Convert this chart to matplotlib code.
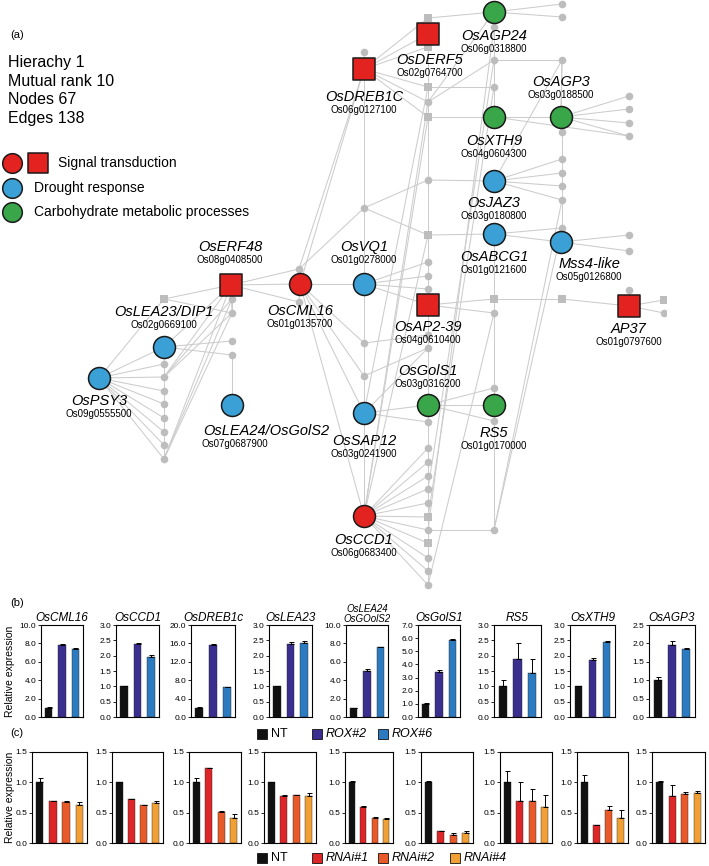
import matplotlib
matplotlib.use('Agg')
import matplotlib.pyplot as plt
from matplotlib.patches import Rectangle
import numpy as np

plt.rcParams['font.family'] = ['Liberation Sans', 'DejaVu Sans']

W, H = 709, 866

# ---- network (a) ----
red, blue, green = '#e3231f', '#3aa0d5', '#3aa64a'
gray_node, gray_edge = '#bdbdbd', '#cccccc'

# gene nodes: name, locus id, category, shape
genes = ['OsAGP24', 'OsDERF5', 'OsDREB1C', 'OsAGP3', 'OsXTH9', 'OsJAZ3', 'OsABCG1',
         'Mss4-like', 'OsVQ1', 'OsERF48', 'OsCML16', 'OsAP2-39', 'AP37', 'OsLEA23/DIP1',
         'OsPSY3', 'OsLEA24/OsGolS2', 'OsSAP12', 'OsGolS1', 'RS5', 'OsCCD1']
loci = ['Os06g0318800', 'Os02g0764700', 'Os06g0127100', 'Os03g0188500', 'Os04g0604300',
        'Os03g0180800', 'Os01g0121600', 'Os05g0126800', 'Os01g0278000', 'Os08g0408500',
        'Os01g0135700', 'Os04g0610400', 'Os01g0797600', 'Os02g0669100', 'Os09g0555500',
        'Os07g0687900', 'Os03g0241900', 'Os03g0316200', 'Os01g0170000', 'Os06g0683400']
cats = ['carb', 'signal', 'signal', 'carb', 'carb', 'drought', 'drought', 'drought', 'drought',
        'signal', 'signal', 'signal', 'signal', 'drought', 'drought', 'drought', 'drought',
        'carb', 'carb', 'signal']
shapes = ['o', 's', 's', 'o', 'o', 'o', 'o', 'o', 'o', 's', 'o', 's', 's', 'o', 'o', 'o',
          'o', 'o', 'o', 'o']

# layout (pixel coords) and label placement
pos = {
    'OsAGP24': (494, 12), 'OsDERF5': (428, 34), 'OsDREB1C': (364, 69), 'OsAGP3': (561, 117),
    'OsXTH9': (494, 117), 'OsJAZ3': (494, 181), 'OsABCG1': (494, 234), 'Mss4-like': (561, 242),
    'OsVQ1': (364, 284), 'OsERF48': (231, 285), 'OsCML16': (300, 284), 'OsAP2-39': (428, 305),
    'AP37': (629, 306), 'OsLEA23/DIP1': (164, 347), 'OsPSY3': (99, 378),
    'OsLEA24/OsGolS2': (232, 405), 'OsSAP12': (364, 413), 'OsGolS1': (428, 405),
    'RS5': (494, 405), 'OsCCD1': (364, 516),
}
label_pos = {
    'OsAGP24': (494, 36), 'OsDERF5': (430, 60), 'OsDREB1C': (364, 97), 'OsAGP3': (561, 82),
    'OsXTH9': (494, 141), 'OsJAZ3': (494, 203), 'OsABCG1': (494, 257), 'Mss4-like': (589, 264),
    'OsVQ1': (364, 247), 'OsERF48': (230, 247), 'OsCML16': (300, 311), 'OsAP2-39': (428, 327),
    'AP37': (629, 329), 'OsLEA23/DIP1': (164, 312), 'OsPSY3': (99, 401),
    'OsLEA24/OsGolS2': (203, 431), 'OsSAP12': (364, 441), 'OsGolS1': (428, 371),
    'RS5': (494, 433), 'OsCCD1': (364, 540),
}

gray_circles = {
    'A3': (428, 102), 'A5': (428, 180), 'A7': (428, 262), 'A8': (428, 276), 'A9': (428, 289),
    'A10': (428, 335), 'A11': (428, 348), 'A12': (428, 422), 'A13': (428, 448),
    'A14': (428, 462), 'A15': (428, 476), 'A16': (428, 489), 'A17': (428, 503),
    'A19': (428, 530), 'A21': (428, 558), 'A22': (428, 571), 'A23': (428, 585),
    'B0': (494, 27), 'B1': (494, 60), 'B2': (494, 87), 'B4': (494, 313), 'B5': (494, 388),
    'B6': (494, 421), 'B7': (494, 530),
    'C0': (562, 4), 'C1': (562, 17), 'C2': (562, 60), 'C3': (562, 132), 'C4': (562, 159),
    'C5': (562, 173), 'C6': (562, 186), 'C7': (562, 200), 'C8': (562, 228),
    'D0': (629, 96), 'D1': (629, 109), 'D2': (629, 123), 'D3': (629, 136), 'D4': (629, 235),
    'D5': (629, 251), 'D6': (629, 290), 'E1': (664, 313),
    'F0': (364, 52), 'F1': (364, 208), 'F2': (364, 343), 'F3': (364, 376),
    'G0': (299, 269), 'G1': (299, 302),
    'H0': (232, 299), 'H1': (232, 313), 'H2': (232, 341), 'H3': (232, 355),
    'K1': (164, 364), 'K2': (164, 377), 'K3': (164, 391), 'K4': (164, 404), 'K5': (164, 418),
    'K6': (164, 432), 'K7': (164, 445), 'K8': (164, 459),
}
gray_squares = {
    'A0': (428, 18), 'A1': (428, 47), 'A2': (428, 87), 'A4': (428, 117), 'A6': (428, 235),
    'A18': (428, 517), 'A20': (428, 543), 'B3': (494, 299), 'C9': (562, 299),
    'E0': (664, 300), 'K0': (164, 299),
}
allpos = dict(pos)
allpos.update(gray_circles)
allpos.update(gray_squares)

edges = [
    ('OsAGP24', 'C0'), ('OsAGP24', 'C1'), ('OsAGP24', 'A0'), ('OsAGP24', 'B0'), ('OsAGP24', 'A3'),
    ('B0', 'A19'), ('OsDERF5', 'A0'), ('OsDERF5', 'A1'),
    ('OsDREB1C', 'A0'), ('OsDREB1C', 'OsDERF5'), ('OsDREB1C', 'A1'), ('OsDREB1C', 'A2'),
    ('OsDREB1C', 'A3'), ('OsDREB1C', 'A4'), ('OsDREB1C', 'F0'), ('OsDREB1C', 'F1'),
    ('OsDREB1C', 'OsCML16'), ('OsDREB1C', 'G0'),
    ('B1', 'C2'), ('A3', 'B1'), ('A2', 'B2'), ('A4', 'OsXTH9'), ('OsXTH9', 'OsAGP3'),
    ('OsAGP3', 'D0'), ('OsAGP3', 'D1'), ('OsAGP3', 'D2'), ('OsAGP3', 'D3'), ('OsXTH9', 'D3'),
    ('OsAGP3', 'C3'), ('C2', 'OsAGP3'), ('C2', 'OsJAZ3'), ('B0', 'B1'), ('B1', 'B2'),
    ('B2', 'OsXTH9'), ('C3', 'C4'),
    ('OsJAZ3', 'A5'), ('OsJAZ3', 'C4'), ('OsJAZ3', 'C5'), ('OsJAZ3', 'C6'), ('OsJAZ3', 'C7'),
    ('A5', 'F1'), ('F1', 'A6'), ('F1', 'OsVQ1'), ('F1', 'G0'),
    ('A6', 'OsABCG1'), ('OsABCG1', 'C8'), ('OsABCG1', 'Mss4-like'), ('Mss4-like', 'D4'),
    ('Mss4-like', 'D5'), ('OsABCG1', 'B3'), ('C7', 'B7'), ('C8', 'B7'), ('C8', 'Mss4-like'),
    ('A2', 'OsSAP12'), ('A3', 'OsCCD1'), ('A4', 'OsCCD1'), ('A6', 'OsCCD1'),
    ('B1', 'A16'), ('B2', 'A18'),
    ('OsVQ1', 'A7'), ('OsVQ1', 'A8'), ('OsVQ1', 'A9'), ('OsVQ1', 'OsAP2-39'),
    ('OsVQ1', 'OsCML16'), ('OsVQ1', 'F2'), ('F2', 'F3'), ('F3', 'OsSAP12'),
    ('F2', 'A10'), ('F3', 'A11'),
    ('OsCML16', 'F2'), ('OsCML16', 'OsSAP12'), ('OsCML16', 'OsCCD1'), ('OsCML16', 'F3'),
    ('OsCML16', 'G0'), ('OsCML16', 'G1'),
    ('OsAP2-39', 'B3'), ('B3', 'C9'), ('C9', 'AP37'), ('OsAP2-39', 'B4'), ('B4', 'A23'),
    ('B3', 'B4'), ('AP37', 'D6'), ('AP37', 'E0'), ('AP37', 'E1'),
    ('OsSAP12', 'OsGolS1'), ('OsSAP12', 'A12'), ('OsSAP12', 'A11'), ('OsSAP12', 'OsCCD1'),
    ('OsGolS1', 'RS5'), ('OsGolS1', 'B5'), ('OsGolS1', 'B6'),
    ('RS5', 'B5'), ('RS5', 'B6'), ('B6', 'B7'), ('B7', 'A19'), ('B4', 'B5'),
    ('OsCCD1', 'A13'), ('OsCCD1', 'A14'), ('OsCCD1', 'A15'), ('OsCCD1', 'A16'),
    ('OsCCD1', 'A17'), ('OsCCD1', 'A18'), ('OsCCD1', 'A19'), ('OsCCD1', 'A20'),
    ('OsCCD1', 'A21'), ('OsCCD1', 'A22'), ('OsCCD1', 'A23'),
    ('OsERF48', 'K0'), ('OsERF48', 'H0'), ('OsERF48', 'H1'), ('OsERF48', 'OsLEA23/DIP1'),
    ('OsERF48', 'OsCML16'), ('OsERF48', 'G0'), ('OsERF48', 'G1'),
    ('OsERF48', 'K8'), ('OsERF48', 'K2'), ('H0', 'K8'), ('H1', 'K8'), ('H0', 'K2'), ('H1', 'K2'),
    ('H0', 'H1'), ('H3', 'OsLEA24/OsGolS2'), ('K0', 'H1'), ('OsPSY3', 'K0'),
    ('OsLEA23/DIP1', 'H2'), ('OsLEA23/DIP1', 'H3'), ('OsLEA23/DIP1', 'K1'),
    ('OsPSY3', 'OsLEA23/DIP1'),
    ('OsPSY3', 'K1'), ('OsPSY3', 'K2'), ('OsPSY3', 'K3'), ('OsPSY3', 'K4'), ('OsPSY3', 'K5'),
    ('OsPSY3', 'K6'), ('OsPSY3', 'K7'), ('OsPSY3', 'K8'),
]
# vertical chains
col_a = ['A0', 'A1', 'A2', 'A3', 'A4', 'A5', 'A6', 'A7', 'A8', 'A9', 'OsAP2-39', 'A10', 'A11',
         'OsGolS1', 'A12', 'A13', 'A14', 'A15', 'A16', 'A17', 'A18', 'A19', 'A20', 'A21',
         'A22', 'A23']
col_c = ['C2', 'OsAGP3', 'C3', 'C4', 'C5', 'C6', 'C7', 'C8', 'Mss4-like']
col_k = ['OsLEA23/DIP1', 'K1', 'K2', 'K3', 'K4', 'K5', 'K6', 'K7', 'K8']
for col in (col_a, col_c, col_k):
    edges += list(zip(col[:-1], col[1:]))

fig = plt.figure(figsize=(W / 100, H / 100), dpi=100)
ax = fig.add_axes([0, 0, 666 / W, 1])
ax.set_xlim(0, 666)
ax.set_ylim(H, 0)
ax.axis('off')

for a, b in edges:
    (x1, y1), (x2, y2) = allpos[a], allpos[b]
    ax.plot([x1, x2], [y1, y2], color=gray_edge, lw=0.75, zorder=1)

ax.scatter([p[0] for p in gray_circles.values()], [p[1] for p in gray_circles.values()],
           s=30, c=gray_node, marker='o', linewidths=0, zorder=2)
ax.scatter([p[0] for p in gray_squares.values()], [p[1] for p in gray_squares.values()],
           s=34, c=gray_node, marker='s', linewidths=0, zorder=2)

cat_color = {'signal': red, 'drought': blue, 'carb': green}
for g, loc, c, m in zip(genes, loci, cats, shapes):
    x, y = pos[g]
    ax.scatter([x], [y], s=250, c=cat_color[c], marker=m, edgecolors='#1a1a1a',
               linewidths=1.1, zorder=3)
    lx, ly = label_pos[g]
    ha = 'left' if g == 'OsLEA24/OsGolS2' else 'center'
    ax.text(lx, ly, g, fontsize=10.5, style='italic', ha=ha, va='center', zorder=4)
    ax.text(lx if ha == 'center' else lx - 1, ly + 13, loc, fontsize=7, ha=ha, va='center',
            zorder=4)

ax.text(10, 35, '(a)', fontsize=8, va='center')
for i, t in enumerate(['Hierachy 1', 'Mutual rank 10', 'Nodes 67', 'Edges 138']):
    ax.text(8, 62 + 19 * i, t, fontsize=11.5, va='center')

ax.scatter([12], [163], s=200, c=red, marker='o', edgecolors='#1a1a1a', linewidths=1.1)
ax.scatter([38], [163], s=190, c=red, marker='s', edgecolors='#1a1a1a', linewidths=1.1)
ax.scatter([12], [188], s=200, c=blue, marker='o', edgecolors='#1a1a1a', linewidths=1.1)
ax.scatter([12], [212], s=200, c=green, marker='o', edgecolors='#1a1a1a', linewidths=1.1)
ax.text(58, 163, 'Signal transduction', fontsize=10, va='center')
ax.text(34, 188, 'Drought response', fontsize=10, va='center')
ax.text(34, 212, 'Carbohydrate metabolic processes', fontsize=10, va='center')

# ---- bar charts (b) and (c) ----
b_genes = ['OsCML16', 'OsCCD1', 'OsDREB1c', 'OsLEA23', 'OsLEA24\nOsGOolS2', 'OsGolS1', 'RS5',
           'OsXTH9', 'OsAGP3']
b_nt = [1.0, 1.0, 2.0, 1.0, 1.0, 1.0, 1.0, 1.0, 1.0]
b_nt_err = [0.08, 0.0, 0.15, 0.02, 0.0, 0.03, 0.22, 0.02, 0.1]
b_rox2 = [7.8, 2.38, 15.6, 2.38, 5.0, 3.4, 1.9, 1.87, 1.97]
b_rox2_err = [0.15, 0.03, 0.3, 0.05, 0.2, 0.2, 0.52, 0.07, 0.1]
b_rox6 = [7.4, 1.97, 6.6, 2.40, 7.6, 5.85, 1.42, 2.45, 1.86]
b_rox6_err = [0.08, 0.05, 0.0, 0.08, 0.05, 0.05, 0.48, 0.03, 0.02]
b_ymax = [10, 3, 20, 3, 10, 7, 3, 3, 2.5]
b_step = [2, 0.5, 4, 0.5, 2, 1, 0.5, 0.5, 0.5]

c_nt = [1.0, 1.0, 1.0, 1.0, 1.0, 1.0, 1.0, 1.0, 1.0]
c_nt_err = [0.07, 0.01, 0.07, 0.0, 0.03, 0.02, 0.19, 0.12, 0.02]
c_r1 = [0.69, 0.72, 1.23, 0.77, 0.59, 0.20, 0.69, 0.29, 0.78]
c_r1_err = [0.005, 0.005, 0.005, 0.02, 0.02, 0.005, 0.31, 0.01, 0.17]
c_r2 = [0.67, 0.62, 0.51, 0.79, 0.42, 0.13, 0.69, 0.55, 0.80]
c_r2_err = [0.02, 0.005, 0.02, 0.005, 0.01, 0.03, 0.2, 0.06, 0.04]
c_r4 = [0.62, 0.66, 0.42, 0.77, 0.40, 0.17, 0.60, 0.41, 0.82]
c_r4_err = [0.05, 0.03, 0.05, 0.06, 0.01, 0.02, 0.19, 0.13, 0.03]

b_colors = ['#111111', '#3a2f8e', '#2c7bc0']
c_colors = ['#111111', '#dc2628', '#e85a2a', '#f0a035']

b_box = [(41, 83), (116, 159), (191, 235), (269, 312), (346, 388), (418, 460), (494, 541),
         (570, 615), (649, 695)]
c_box = [(32, 87), (112, 163), (189, 241), (264, 316), (345, 393), (421, 473), (500, 552),
         (577, 628), (652, 705)]


def add_px_axes(x0, x1, top, bottom):
    return fig.add_axes([x0 / W, 1 - bottom / H, (x1 - x0) / W, (bottom - top) / H])


def bars(a, vals, errs, colors, ymax, step, fmt):
    n = len(vals)
    x = np.arange(n)
    a.bar(x, vals, width=0.55, color=colors, edgecolor='#222222', linewidth=0.3, zorder=2)
    a.errorbar(x, vals, yerr=[np.zeros(n), errs], fmt='none', ecolor='black',
               elinewidth=0.7, capsize=1.8, capthick=0.7, zorder=3)
    a.set_xlim(-0.6, n - 0.4)
    a.set_ylim(0, ymax)
    ticks = np.arange(0, ymax + step / 2, step)
    a.set_yticks(ticks)
    a.set_yticklabels([fmt.format(t) for t in ticks])
    a.set_xticks([])
    a.tick_params(axis='y', direction='out', length=2, width=0.6, pad=1.5, labelsize=6)
    for s in a.spines.values():
        s.set_linewidth(0.8)


for i in range(9):
    a = add_px_axes(b_box[i][0], b_box[i][1], 625, 717)
    bars(a, [b_nt[i], b_rox2[i], b_rox6[i]], [b_nt_err[i], b_rox2_err[i], b_rox6_err[i]],
         b_colors, b_ymax[i], b_step[i], '{:.1f}')
    if '\n' in b_genes[i]:
        a.set_title(b_genes[i], fontsize=7, style='italic', pad=2, linespacing=1.0)
    else:
        a.set_title(b_genes[i], fontsize=8.5, style='italic', pad=3)

for i in range(9):
    a = add_px_axes(c_box[i][0], c_box[i][1], 752, 843)
    bars(a, [c_nt[i], c_r1[i], c_r2[i], c_r4[i]],
         [c_nt_err[i], c_r1_err[i], c_r2_err[i], c_r4_err[i]],
         c_colors, 1.5, 0.5, '{:.1f}')

ax.text(10, 603, '(b)', fontsize=8, va='center')
ax.text(10, 733, '(c)', fontsize=8, va='center')
ax.text(10, 671, 'Relative expression', fontsize=7.5, rotation=90, ha='center', va='center')
ax.text(10, 797, 'Relative expression', fontsize=7.5, rotation=90, ha='center', va='center')


def legend_row(y, items):
    for (x, col, label, ital) in items:
        ax.add_patch(Rectangle((x, y - 5), 10, 10, facecolor=col, edgecolor='#111111',
                               linewidth=0.6, zorder=5))
        ax.text(x + 14, y, label, fontsize=9, va='center', style='italic' if ital else 'normal')


legend_row(734, [(257, b_colors[0], 'NT', False), (312, b_colors[1], 'ROX#2', True),
                 (378, b_colors[2], 'ROX#6', True)])
legend_row(858, [(257, c_colors[0], 'NT', False), (312, c_colors[1], 'RNAi#1', True),
                 (378, c_colors[2], 'RNAi#2', True), (450, c_colors[3], 'RNAi#4', True)])

fig.savefig('out.png', dpi=100)
